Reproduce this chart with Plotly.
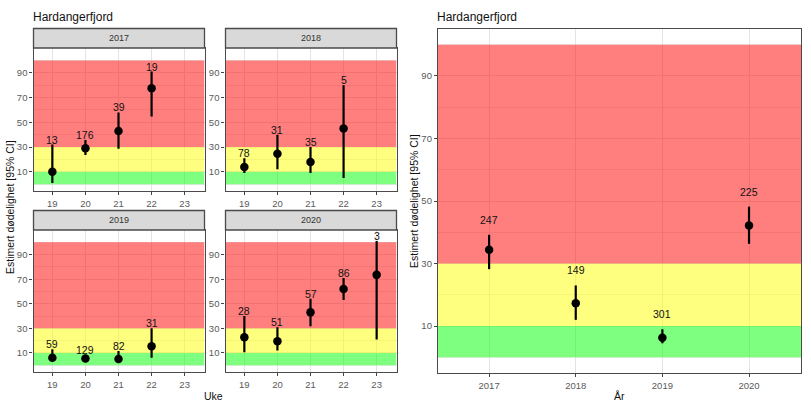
import plotly.graph_objects as go

W, H = 811, 410
FONT = "Liberation Sans"

# Weekly estimates per year
weeks = [19, 20, 21, 22, 23]
week_2017_x = [19, 20, 21, 22]
week_2017_mean = [10, 29, 43, 77.5]
week_2017_lo = [1, 23.5, 28.6, 54.6]
week_2017_hi = [32, 35.7, 58, 91]
week_2017_n = ["13", "176", "39", "19"]

week_2018_x = [19, 20, 21, 22]
week_2018_mean = [13.8, 24.6, 18, 45]
week_2018_lo = [9, 12, 9, 5]
week_2018_hi = [21, 40, 30, 80]
week_2018_n = ["78", "31", "35", "5"]

week_2019_x = [19, 20, 21, 22]
week_2019_mean = [6, 5.4, 5, 15.4]
week_2019_lo = [4, 3.5, 3, 6]
week_2019_hi = [13, 8.5, 11.6, 30]
week_2019_n = ["59", "129", "82", "31"]

week_2020_x = [19, 20, 21, 22, 23]
week_2020_mean = [22.7, 19.5, 43, 62, 73.5]
week_2020_lo = [10.5, 12, 31.7, 53, 21]
week_2020_hi = [40, 31, 54, 71, 101]
week_2020_n = ["28", "51", "57", "86", "3"]

# Yearly estimates
years = [2017, 2018, 2019, 2020]
year_mean = [34.4, 17.3, 6.3, 42.2]
year_lo = [28.2, 12, 4.5, 36.3]
year_hi = [39.2, 23, 9, 48.2]
year_n = ["247", "149", "301", "225"]

# Risk bands
band_low = [0, 10, 30]
band_high = [10, 30, 100]
band_colors = ["rgba(0,255,0,0.5)", "rgba(255,255,0,0.5)", "rgba(255,0,0,0.5)"]

y_ticks = [10, 30, 50, 70, 90]
y_minor = [0, 20, 40, 60, 80, 100]

panels = [
    ("2017", week_2017_x, week_2017_mean, week_2017_lo, week_2017_hi, week_2017_n, (33.5, 204.5, 48, 191)),
    ("2018", week_2018_x, week_2018_mean, week_2018_lo, week_2018_hi, week_2018_n, (225.5, 396.5, 48, 191)),
    ("2019", week_2019_x, week_2019_mean, week_2019_lo, week_2019_hi, week_2019_n, (33.5, 204.5, 230, 372)),
    ("2020", week_2020_x, week_2020_mean, week_2020_lo, week_2020_hi, week_2020_n, (225.5, 396.5, 230, 372)),
]
right_box = (438, 801, 29, 373)


def px(x):
    return x / W


def py(y):
    return 1 - y / H


fig = go.Figure()
shapes, annotations = [], []


def add_panel(idx, xs, mean, lo, hi, labels, box, xticks, xrange, yrange, shift, tick_size, msize, thick):
    suffix = "" if idx == 1 else str(idx)
    xa, ya = "xaxis" + suffix, "yaxis" + suffix
    xref, yref = "x" + suffix, "y" + suffix
    fig.add_trace(go.Scatter(
        x=xs, y=mean, mode="markers", xaxis=xref, yaxis=yref, showlegend=False,
        marker=dict(color="black", size=msize),
        error_y=dict(type="data", symmetric=False,
                     array=[h - m for h, m in zip(hi, mean)],
                     arrayminus=[m - l for m, l in zip(mean, lo)],
                     color="black", thickness=thick, width=0),
    ))
    common = dict(
        showline=True, linecolor="#4a4a4a", linewidth=1.3, mirror=True,
        ticks="outside", ticklen=3, tickwidth=1, tickcolor="#444444",
        tickfont=dict(family=FONT, size=tick_size, color="#5a5a5a"),
        showgrid=True, gridcolor="#e4e4e4", gridwidth=1, zeroline=False,
    )
    fig.update_layout({
        xa: dict(common, domain=[px(box[0]), px(box[1])], range=xrange, anchor=yref,
                 tickmode="array", tickvals=xticks, ticktext=[str(t) for t in xticks]),
        ya: dict(common, domain=[py(box[3]), py(box[2])], range=yrange, anchor=xref,
                 tickmode="array", tickvals=y_ticks,
                 minor=dict(tickmode="array", tickvals=y_minor, showgrid=True,
                            gridcolor="#ebebeb", gridwidth=0.7, ticks="")),
    })
    for lower, upper, colour in zip(band_low, band_high, band_colors):
        shapes.append(dict(type="rect", xref=xref, yref=yref, x0=xrange[0], x1=xrange[1],
                           y0=lower, y1=upper, fillcolor=colour, line_width=0, layer="between"))
    for x, h, t in zip(xs, hi, labels):
        annotations.append(dict(x=x, y=h, xref=xref, yref=yref, text=t, showarrow=False,
                                yshift=shift, font=dict(family=FONT, size=10.5, color="#111111")))


for i, (name, xs, m, lo, hi, n, box) in enumerate(panels, start=1):
    add_panel(i, xs, m, lo, hi, n, box, weeks, [18.43, 23.6], [-5.5, 110], 5, 9.5, 8.5, 2.2)
    strip_top = box[2] - 19.5
    shapes.append(dict(type="rect", xref="paper", yref="paper", x0=px(box[0]), x1=px(box[1]),
                       y0=py(box[2]), y1=py(strip_top), fillcolor="#d9d9d9",
                       line=dict(color="#4a4a4a", width=1.3)))
    annotations.append(dict(x=px((box[0] + box[1]) / 2), y=py((box[2] + strip_top) / 2),
                            xref="paper", yref="paper", text=name, showarrow=False,
                            yanchor="middle", xanchor="center",
                            font=dict(family=FONT, size=9, color="#333333")))

add_panel(5, years, year_mean, year_lo, year_hi, year_n, right_box, years,
          [2016.41, 2020.6], [-5, 105], 15, 9.5, 8.5, 2.2)


def text(x, y, s, size, angle=0, anchor="center", colour="#111111"):
    annotations.append(dict(x=px(x), y=py(y), xref="paper", yref="paper", text=s, showarrow=False,
                            textangle=angle, xanchor=anchor, yanchor="middle",
                            font=dict(family=FONT, size=size, color=colour)))


text(31, 17, "Hardangerfjord", 12, anchor="left")
text(435, 17, "Hardangerfjord", 12, anchor="left")
text(10, 207, "Estimert dødelighet [95% CI]", 10.5, angle=-90)
text(414, 201, "Estimert dødelighet [95% CI]", 10.5, angle=-90)
text(214, 396, "Uke", 10.5)
text(619, 396, "År", 10.5)

fig.update_layout(width=W, height=H, margin=dict(l=0, r=0, t=0, b=0), autosize=False,
                  paper_bgcolor="white", plot_bgcolor="white", showlegend=False,
                  shapes=shapes, annotations=annotations)
fig.write_html("out.html", config=dict(displayModeBar=False),
               post_script="document.body.style.margin='0';")
